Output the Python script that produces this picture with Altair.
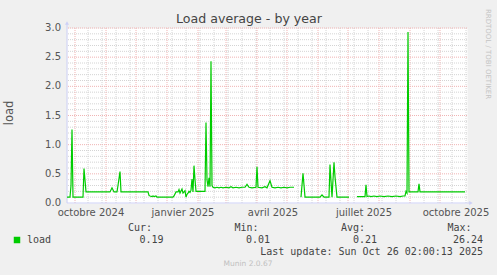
import altair as alt
import pandas as pd

# ---------------- data (daily load average) ----------------
dates = [
    "2024-09-23", "2024-09-26", "2024-09-27", "2024-09-28", "2024-09-29", "2024-10-09", "2024-10-10",
    "2024-10-12", "2024-11-05", "2024-11-07", "2024-11-09", "2024-11-12", "2024-11-13", "2024-11-15",
    "2024-11-16", "2024-12-13", "2024-12-14", "2024-12-15", "2024-12-17", "2024-12-18", "2024-12-19",
    "2024-12-21", "2024-12-22", "2025-01-07", "2025-01-08", "2025-01-10", "2025-01-12", "2025-01-13",
    "2025-01-14", "2025-01-16", "2025-01-17", "2025-01-19", "2025-01-20", "2025-01-21", "2025-01-22",
    "2025-01-23", "2025-01-24", "2025-01-25", "2025-01-26", "2025-01-27", "2025-01-28", "2025-01-29",
    "2025-01-30", "2025-02-08", "2025-02-09", "2025-02-10", "2025-02-11", "2025-02-12", "2025-02-13",
    "2025-02-14", "2025-02-15", "2025-02-16", "2025-02-18", "2025-02-20", "2025-02-22", "2025-02-24",
    "2025-02-26", "2025-03-01", "2025-03-04", "2025-03-06", "2025-03-08", "2025-03-11", "2025-03-14",
    "2025-03-17", "2025-03-20", "2025-03-22", "2025-03-24", "2025-03-27", "2025-03-31", "2025-04-01",
    "2025-04-02", "2025-04-06", "2025-04-09", "2025-04-11", "2025-04-14", "2025-04-16", "2025-04-19",
    "2025-04-22", "2025-04-25", "2025-04-28", "2025-05-01", "2025-05-04", "2025-05-08", "2025-05-09",
    "2025-05-15", "2025-05-17", "2025-05-19", "2025-06-03", "2025-06-05", "2025-06-07", "2025-06-12",
    "2025-06-13", "2025-06-15", "2025-06-17", "2025-06-18", "2025-06-20", "2025-07-02", "2025-07-03",
    "2025-07-10", "2025-07-18", "2025-07-19", "2025-07-20", "2025-07-22", "2025-07-24", "2025-07-27",
    "2025-07-30", "2025-08-02", "2025-08-06", "2025-08-10", "2025-08-14", "2025-08-18", "2025-08-22",
    "2025-08-25", "2025-08-27", "2025-08-28", "2025-08-29", "2025-08-30", "2025-08-31", "2025-09-09",
    "2025-09-10", "2025-09-11", "2025-10-26",
]
load = [
    0.10, 0.10, 0.30, 1.26, 0.10, 0.10, 0.59,
    0.19, 0.19, 0.26, 0.19, 0.19, 0.30, 0.54,
    0.19, 0.19, 0.13, 0.12, 0.11, 0.12, 0.11,
    0.12, 0.10, 0.10, 0.12, 0.19, 0.19, 0.23,
    0.17, 0.24, 0.17, 0.21, 0.10, 0.15, 0.17,
    0.20, 0.18, 0.22, 0.41, 0.19, 0.64, 0.40,
    0.20, 0.20, 1.38, 0.40, 0.28, 0.43, 0.28,
    2.43, 0.30, 0.27, 0.26, 0.27, 0.26, 0.27,
    0.26, 0.27, 0.26, 0.28, 0.26, 0.27, 0.26,
    0.27, 0.27, 0.32, 0.27, 0.26, 0.27, 0.62,
    0.27, 0.26, 0.28, 0.26, 0.38, 0.27, 0.26,
    0.27, 0.26, 0.27, 0.26, 0.27, 0.27, None,
    0.10, 0.51, 0.10, 0.10, 0.14, 0.10, 0.10,
    0.66, 0.10, 0.70, 0.45, 0.10, 0.10, None,
    0.11, 0.11, 0.31, 0.11, 0.12, 0.11, 0.12,
    0.11, 0.12, 0.11, 0.12, 0.11, 0.12, 0.11,
    0.12, 0.12, 0.20, 0.17, 2.93, 0.19, 0.19,
    0.33, 0.19, 0.19,
]

# grid / tick positions
month_starts = ["2024-10-01", "2024-11-01", "2024-12-01", "2025-01-01", "2025-02-01", "2025-03-01",
                "2025-04-01", "2025-05-01", "2025-06-01", "2025-07-01", "2025-08-01", "2025-09-01",
                "2025-10-01"]
minor_days = ["2024-10-14", "2024-10-28", "2024-11-11", "2024-11-25", "2024-12-09", "2024-12-23",
              "2025-01-06", "2025-01-20", "2025-02-03", "2025-02-17", "2025-03-03", "2025-03-17",
              "2025-03-31", "2025-04-14", "2025-04-28", "2025-05-12", "2025-05-26", "2025-06-09",
              "2025-06-23", "2025-07-07", "2025-07-21", "2025-08-04", "2025-08-18", "2025-09-15",
              "2025-09-29", "2025-10-13", "2025-10-27"]
y_major = [0.5, 1.0, 1.5, 2.0, 2.5, 3.0]
y_minor = [0.1, 0.2, 0.3, 0.4, 0.6, 0.7, 0.8, 0.9, 1.1, 1.2, 1.3, 1.4, 1.6, 1.7, 1.8, 1.9,
           2.1, 2.2, 2.3, 2.4, 2.6, 2.7, 2.8, 2.9]
y_tick_values = [0.0, 0.5, 1.0, 1.5, 2.0, 2.5, 3.0]
y_tick_labels = ["0.0", "0.5", "1.0", "1.5", "2.0", "2.5", "3.0"]
x_label_dates = ["2024-10-17", "2025-01-17", "2025-04-17", "2025-07-17", "2025-10-17"]
x_labels = ["octobre 2024", "janvier 2025", "avril 2025", "juillet 2025", "octobre 2025"]

legend_heads = ["Cur:", "Min:", "Avg:", "Max:"]
legend_vals = ["0.19", "0.01", "0.21", "26.24"]

# ---------------- build tables ----------------
rows, seg = [], 0
for d, v in zip(dates, load):
    if v is None:
        seg += 1
        continue
    rows.append({"date": d, "load": v, "seg": seg})
df = pd.DataFrame(rows)

W, H = 400, 175
FONT = "DejaVu Sans"
MONO = "DejaVu Sans Mono"
GREEN = "#00CC00"
AXIS_BLUE = "#cdd0f6"
MAJOR = "#f0b4b4"
MINOR = "#d4d4d4"

xs = alt.Scale(type="utc", domain=[alt.DateTime(year=2024, month=9, date=23, utc=True),
                                   alt.DateTime(year=2025, month=10, date=28, utc=True)])
ys = alt.Scale(domain=[0, 3], nice=False, zero=True)

minor_v = alt.Chart(pd.DataFrame({"d": minor_days})).mark_rule(
    color=MINOR, strokeWidth=1, strokeDash=[1, 1]
).encode(x=alt.X("d:T", scale=xs, axis=None))
minor_h = alt.Chart(pd.DataFrame({"v": y_minor})).mark_rule(
    color=MINOR, strokeWidth=1, strokeDash=[1, 1]
).encode(y=alt.Y("v:Q", scale=ys, axis=None))
major_v = alt.Chart(pd.DataFrame({"d": month_starts})).mark_rule(
    color=MAJOR, strokeWidth=1, strokeDash=[1, 1]
).encode(x=alt.X("d:T", scale=xs, axis=None))
major_h = alt.Chart(pd.DataFrame({"v": y_major})).mark_rule(
    color=MAJOR, strokeWidth=1, strokeDash=[1, 1]
).encode(y=alt.Y("v:Q", scale=ys, axis=None))

one = pd.DataFrame({"k": [0]})
y_axis_line = alt.Chart(one).mark_rule(color=AXIS_BLUE, strokeWidth=1).encode(
    x=alt.value(0), y=alt.value(H), y2=alt.value(-5))
x_axis_line = alt.Chart(one).mark_rule(color=AXIS_BLUE, strokeWidth=1).encode(
    x=alt.value(0), x2=alt.value(W + 4), y=alt.value(H))
y_arrow = alt.Chart(one).mark_point(shape="triangle-up", filled=True, color=AXIS_BLUE,
                                    size=16, opacity=1).encode(x=alt.value(0), y=alt.value(-5))
x_arrow = alt.Chart(one).mark_point(shape="triangle-right", filled=True, color=AXIS_BLUE,
                                    size=16, opacity=1).encode(x=alt.value(W + 4), y=alt.value(H))

line = alt.Chart(df).mark_line(color=GREEN, strokeWidth=1.2, interpolate="linear").encode(
    x=alt.X("date:T", scale=xs, axis=None),
    y=alt.Y("load:Q", scale=ys, axis=None),
    detail="seg:N",
)

y_ticks = alt.Chart(pd.DataFrame({"v": y_tick_values, "t": y_tick_labels})).mark_text(
    align="right", baseline="middle", font=FONT, fontSize=10, color="#555555"
).encode(y=alt.Y("v:Q", scale=ys, axis=None), x=alt.value(-6), text="t:N")
x_ticks = alt.Chart(pd.DataFrame({"d": x_label_dates, "t": x_labels})).mark_text(
    align="center", baseline="middle", font=FONT, fontSize=10, color="#555555"
).encode(x=alt.X("d:T", scale=xs, axis=None), y=alt.value(185), text="t:N")


def label(txt, x, y, font=FONT, size=10, color="#444444", align="left", angle=0):
    kw = dict(align=align, baseline="middle", font=font, fontSize=size, color=color)
    if angle:
        kw["angle"] = angle
    return alt.Chart(pd.DataFrame({"t": [txt]})).mark_text(**kw).encode(
        x=alt.value(x), y=alt.value(y), text="t:N")


texts = [
    label("Load average - by year", 182, -9, size=12.6, color="#444444", align="center"),
    label("load", -57, 85, size=11.5, color="#555555", align="center", angle=270),
    label("RRDTOOL / TOBI OETIKER", 421, 26, size=7, color="#c4c4c4", align="center", angle=90),
    label("load", -40, 211.5, font=MONO),
    label("Last update: Sun Oct 26 02:00:13 2025", 416, 224, font=MONO, align="right"),
    label("Munin 2.0.67", 181, 236, size=7.5, color="#c0c0c0", align="center"),
]
head_x = [61, 167.5, 274, 380.5]
val_x = [72.5, 179, 286, 416]
for h, hx in zip(legend_heads, head_x):
    texts.append(label(h, hx, 199.5, font=MONO))
for v, vx, al in zip(legend_vals, val_x, ["left", "left", "left", "right"]):
    texts.append(label(v, vx, 211.5, font=MONO, align=al))

swatch = alt.Chart(one).mark_square(color=GREEN, size=42, opacity=1).encode(
    x=alt.value(-50), y=alt.value(212))

chart = alt.layer(
    minor_v, minor_h, major_v, major_h, y_axis_line, x_axis_line, y_arrow, x_arrow,
    line, y_ticks, x_ticks, swatch, *texts
).properties(
    width=W, height=H,
    autosize=alt.AutoSizeParams(type="none"),
    padding={"left": 67, "top": 28, "right": 30, "bottom": 72},
    background="#F0F0F0",
).configure_view(fill="white", stroke="transparent")

chart.save("out.html", embed_options={"renderer": "svg", "actions": False})
